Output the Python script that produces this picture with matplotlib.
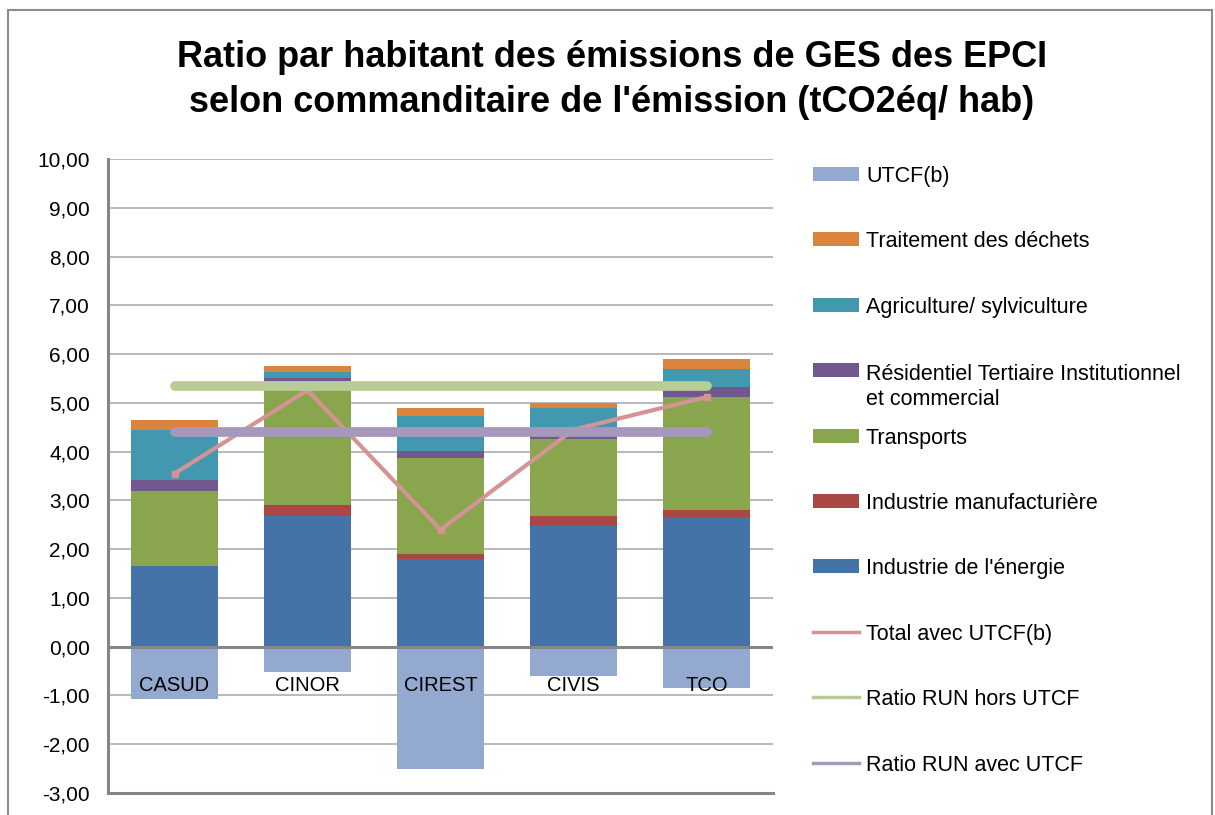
import matplotlib
matplotlib.use("Agg")
import matplotlib.pyplot as plt
from matplotlib.patches import Rectangle
from matplotlib.lines import Line2D
import numpy as np

plt.rcParams['font.family'] = ['Liberation Sans', 'DejaVu Sans']

# valeurs (tCO2eq / hab)
epci = ['CASUD', 'CINOR', 'CIREST', 'CIVIS', 'TCO']
energie = [1.66, 2.69, 1.79, 2.47, 2.65]
industrie = [0.00, 0.21, 0.12, 0.20, 0.16]
transports = [1.54, 2.54, 1.96, 1.58, 2.30]
residentiel = [0.21, 0.06, 0.15, 0.06, 0.21]
agriculture = [1.03, 0.13, 0.72, 0.58, 0.37]
dechets = [0.20, 0.12, 0.15, 0.11, 0.20]
utcf = [-1.08, -0.51, -2.50, -0.61, -0.84]
total_utcf = [3.55, 5.26, 2.40, 4.45, 5.12]
ratio_hors = [5.35, 5.35, 5.35, 5.35, 5.35]
ratio_avec = [4.41, 4.41, 4.41, 4.41, 4.41]
yticks = [-3, -2, -1, 0, 1, 2, 3, 4, 5, 6, 7, 8, 9, 10]

c_energie = '#4572A7'
c_indus = '#AA4643'
c_transp = '#89A54E'
c_resid = '#71588F'
c_agri = '#4198AF'
c_dech = '#DB843D'
c_utcf = '#93A9CF'
c_total = '#D39493'
c_hors = '#B7CD95'
c_avec = '#A698BD'

W, H = 1215, 815
fig = plt.figure(figsize=(W / 100, H / 100), dpi=100)

# cadre exterieur
fig.add_artist(Rectangle((8 / W, -0.05), (1212 - 8) / W, (H - 10) / H + 0.05,
                         transform=fig.transFigure, fill=False,
                         edgecolor='#8C8C8C', lw=1.5))

ax = fig.add_axes([108 / W, 1 - 793 / H, (773 - 108) / W, (793 - 159) / H])

x = np.arange(len(epci))
bw = 0.65
stack = [(energie, c_energie), (industrie, c_indus), (transports, c_transp),
         (residentiel, c_resid), (agriculture, c_agri), (dechets, c_dech)]
bottom = np.zeros(len(epci))
for vals, col in stack:
    ax.bar(x, vals, bw, bottom=bottom, color=col, zorder=2)
    bottom += np.array(vals)
ax.bar(x, utcf, bw, color=c_utcf, zorder=2)

ax.plot(x, total_utcf, color=c_total, lw=3, marker='s', ms=4, zorder=3)
ax.plot(x, ratio_hors, color=c_hors, lw=7, solid_capstyle='round', zorder=4)
ax.plot(x, ratio_avec, color=c_avec, lw=7, solid_capstyle='round', zorder=5)

ax.set_xlim(-0.5, 4.5)
ax.set_ylim(-3, 10)
ax.set_yticks(yticks)
ax.set_yticklabels([f"{v:.2f}".replace('.', ',') for v in yticks])
ax.tick_params(axis='y', length=0, pad=13, labelsize=15)
ax.set_xticks([])

# etiquettes des EPCI juste sous l'axe des abscisses (devant les barres)
for xi, name in zip(x, epci):
    ax.text(xi, -0.8, name, ha='center', va='center', fontsize=14.5, zorder=7)

ax.grid(axis='y', color='#A6A6A6', lw=1.1, zorder=0)
for s in ['top', 'right']:
    ax.spines[s].set_visible(False)
ax.spines['left'].set_color('#868686')
ax.spines['left'].set_linewidth(2.2)
ax.spines['bottom'].set_visible(False)
ax.axhline(0, color='#868686', lw=2.2, zorder=6)
ax.axhline(-3, color='#868686', lw=2.2, clip_on=False, zorder=6)

# titre
fig.text(612 / W, 1 - 67 / H, "Ratio par habitant des émissions de GES des EPCI",
         ha='center', va='baseline', fontsize=26, fontweight='bold')
fig.text(612 / W, 1 - 112 / H, "selon commanditaire de l'émission (tCO2éq/ hab)",
         ha='center', va='baseline', fontsize=26, fontweight='bold')

# legende
legend_items = [
    ("UTCF(b)", 'bar', c_utcf),
    ("Traitement des déchets", 'bar', c_dech),
    ("Agriculture/ sylviculture", 'bar', c_agri),
    ("Résidentiel Tertiaire Institutionnel\net commercial", 'bar', c_resid),
    ("Transports", 'bar', c_transp),
    ("Industrie manufacturière", 'bar', c_indus),
    ("Industrie de l'énergie", 'bar', c_energie),
    ("Total avec UTCF(b)", 'line', c_total),
    ("Ratio RUN hors UTCF", 'line', c_hors),
    ("Ratio RUN avec UTCF", 'line', c_avec),
]
for i, (lab, kind, col) in enumerate(legend_items):
    yc = 174 + 65.4 * i
    if kind == 'bar':
        fig.add_artist(Rectangle((813 / W, 1 - (yc + 7) / H), 46 / W, 14 / H,
                                 transform=fig.transFigure, color=col, lw=0))
    else:
        fig.add_artist(Line2D([813 / W, 859 / W], [1 - yc / H, 1 - yc / H],
                              transform=fig.transFigure, color=col, lw=2.5))
    # premiere ligne du texte calee sur le symbole
    nl = lab.count('\n')
    fig.text(866 / W, 1 - (yc + 8 + 26.5 * nl) / H, lab, ha='left',
             va='baseline', fontsize=15.5, linespacing=1.24)

fig.savefig('out.png', dpi=100)
